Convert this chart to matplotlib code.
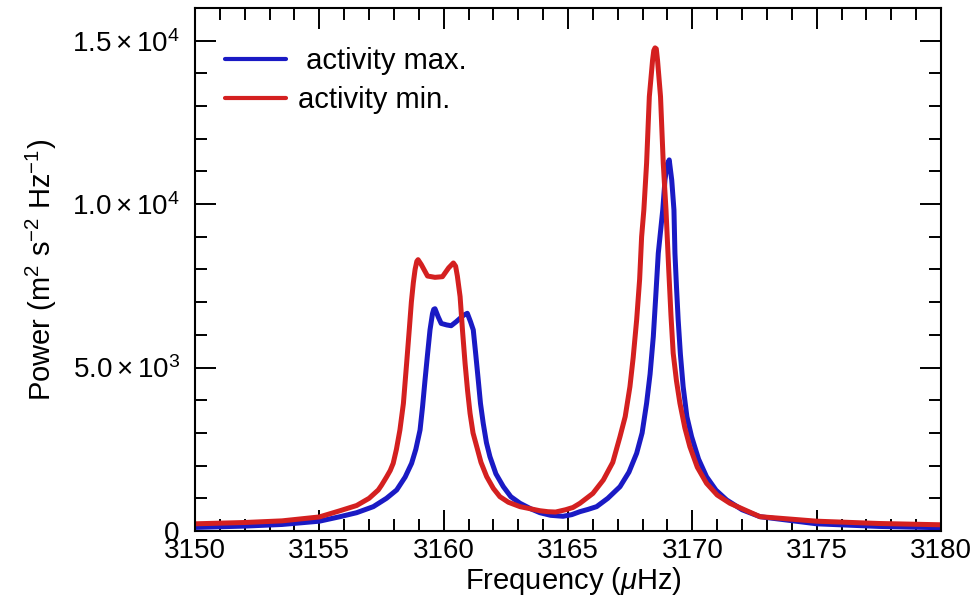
import matplotlib
matplotlib.use("Agg")
import matplotlib.pyplot as plt
from matplotlib.ticker import MultipleLocator

plt.rcParams["font.family"] = ["Liberation Sans", "DejaVu Sans"]
plt.rcParams["mathtext.fontset"] = "custom"
plt.rcParams["mathtext.rm"] = "Liberation Sans"
plt.rcParams["mathtext.it"] = "Liberation Sans:italic"

# activity maximum (blue)
freq_max = [3150.0, 3152.0, 3153.5, 3155.0, 3155.83, 3156.5, 3157.17, 3157.7, 3158.11,
            3158.45, 3158.71, 3158.88, 3159.05, 3159.15, 3159.25, 3159.35, 3159.45,
            3159.55, 3159.6, 3159.65, 3159.78, 3159.9, 3160.12, 3160.3, 3160.5, 3160.8,
            3160.95, 3161.08, 3161.19, 3161.29, 3161.39, 3161.48, 3161.59, 3161.72,
            3161.86, 3162.1, 3162.4, 3162.7, 3163.07, 3163.5, 3163.87, 3164.3, 3164.8,
            3165.15, 3165.48, 3165.8, 3166.15, 3166.6, 3167.09, 3167.45, 3167.76,
            3167.98, 3168.16, 3168.3, 3168.43, 3168.53, 3168.63, 3168.81, 3168.9,
            3168.98, 3169.07, 3169.17, 3169.26, 3169.3, 3169.36, 3169.43, 3169.52,
            3169.63, 3169.78, 3169.97, 3170.25, 3170.57, 3170.95, 3171.38, 3172.0,
            3172.72, 3175.0, 3177.5, 3180.0]
power_max = [110, 150, 200, 300, 438, 560, 745, 1000, 1255,
             1650, 2071, 2500, 3091, 3800, 4621, 5400, 6151,
             6650, 6780, 6800, 6550, 6350, 6304, 6280, 6400, 6600,
             6660, 6400, 6151, 5400, 4621, 3900, 3295, 2700,
             2274, 1750, 1356, 1050, 848, 680, 560, 480, 450,
             500, 592, 660, 745, 1000, 1356, 1800, 2377,
             3000, 3908, 4800, 5946, 7200, 8498, 9823, 10741,
             11200, 11353, 10741, 9823, 8498, 7500, 6457, 5400,
             4416, 3500, 2886, 2200, 1662, 1250, 950, 650,
             438, 220, 140, 100]

# activity minimum (red)
freq_min = [3150.0, 3152.0, 3153.5, 3155.0, 3155.83, 3156.5, 3157.0, 3157.37, 3157.5,
            3157.7, 3157.85, 3157.97, 3158.1, 3158.24, 3158.38, 3158.51, 3158.62,
            3158.7, 3158.78, 3158.85, 3158.92, 3158.97, 3159.1, 3159.35, 3159.65,
            3159.95, 3160.2, 3160.39, 3160.48, 3160.55, 3160.66, 3160.76, 3160.86,
            3160.96, 3161.06, 3161.18, 3161.33, 3161.5, 3161.73, 3162.0, 3162.26,
            3162.6, 3163.07, 3163.87, 3164.2, 3164.5, 3164.9, 3165.2, 3165.48, 3166.0,
            3166.42, 3166.8, 3167.09, 3167.3, 3167.49, 3167.62, 3167.76, 3167.88,
            3167.96, 3168.05, 3168.16, 3168.27, 3168.4, 3168.45, 3168.5, 3168.55,
            3168.6, 3168.72, 3168.83, 3168.94, 3169.05, 3169.14, 3169.23, 3169.36,
            3169.5, 3169.7, 3169.9, 3170.2, 3170.57, 3171.0, 3171.51, 3172.72,
            3175.0, 3177.5, 3180.0]
power_min = [220, 260, 310, 430, 620, 780, 1000, 1255, 1400,
             1650, 1850, 2071, 2500, 3091, 3900, 5131, 6200,
             7000, 7600, 8000, 8250, 8300, 8150, 7800, 7760,
             7780, 8050, 8200, 8100, 7800, 7170, 6100, 5131,
             4300, 3601, 3000, 2580, 2100, 1662, 1300, 1050,
             880, 745, 620, 590, 580, 650, 720, 848, 1150,
             1561, 2100, 2886, 3500, 4416, 5300, 6457, 7700,
             9000, 9823, 11252, 13290, 14400, 14700, 14780, 14750,
             14400, 13290, 11252, 9823, 8000, 6600, 5438, 4600,
             3908, 3150, 2580, 1950, 1460, 1100, 848, 438,
             300, 230, 190]

ytick_vals = [0, 5000, 10000, 15000]
ytick_labels = ["0", r"$\mathregular{5.0\times10^{3}}$",
                r"$\mathregular{1.0\times10^{4}}$", r"$\mathregular{1.5\times10^{4}}$"]

fig = plt.figure(figsize=(9.79, 6.0), dpi=100)
ax = fig.add_axes([0.1992, 0.115, 0.762, 0.8717])

ax.plot(freq_max, power_max, color="#1a1ac4", linewidth=3.6, label=" activity max.",
        solid_joinstyle="round", solid_capstyle="round")
ax.plot(freq_min, power_min, color="#d42020", linewidth=3.6, label="activity min.",
        solid_joinstyle="round", solid_capstyle="round")

ax.set_xlim(3150, 3180)
ax.set_ylim(0, 16000)
ax.xaxis.set_major_locator(MultipleLocator(5))
ax.xaxis.set_minor_locator(MultipleLocator(1))
ax.set_yticks(ytick_vals, ytick_labels)
ax.yaxis.set_minor_locator(MultipleLocator(1000))

ax.tick_params(which="both", direction="in", top=True, right=True, width=1.4)
ax.tick_params(which="major", length=15)
ax.tick_params(which="minor", length=8.5)
ax.tick_params(axis="x", pad=5, labelsize=20)
ax.tick_params(axis="y", pad=11, labelsize=20)
for sp in ax.spines.values():
    sp.set_linewidth(1.5)

fig.text(0.586, 0.031, r"Frequency ($\mu$Hz)", ha="center", va="center", fontsize=21)
fig.text(0.042, 0.55, r"Power (m$^{2}$ s$^{-2}$ Hz$^{-1}$)", rotation=90,
         ha="center", va="center", fontsize=21)

leg = ax.legend(loc="upper left", bbox_to_anchor=(0.2298, 0.922),
                bbox_transform=fig.transFigure, frameon=False, fontsize=21,
                handlelength=2.1, handletextpad=0.4, labelspacing=0.39,
                borderpad=0, borderaxespad=0)
for h in leg.get_lines():
    h.set_linewidth(3)

fig.savefig("out.png", dpi=100)
